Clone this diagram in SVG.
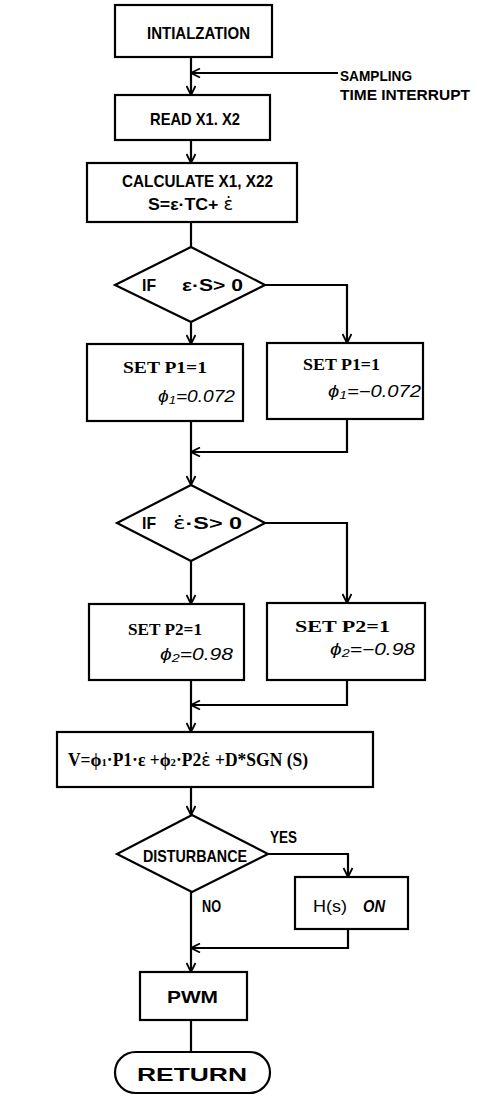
<svg xmlns="http://www.w3.org/2000/svg" width="477" height="1096" viewBox="0 0 477 1096">
<defs>
<style>
.b{fill:#fff;stroke:#000;stroke-width:2.2}
.c{fill:none;stroke:#000;stroke-width:2.2}
.t{font-family:"Liberation Sans",Arial,sans-serif;font-weight:bold;font-size:17px;fill:#000}
.s{font-family:"Liberation Serif","Times New Roman",serif;font-weight:bold;font-size:17px;fill:#000}
.h{font-family:"Liberation Sans",Arial,sans-serif;font-style:italic;font-size:16px;fill:#000}
.e{font-family:"DejaVu Sans",sans-serif;font-weight:normal}
</style>
<marker id="a" viewBox="0 0 10 10" refX="10" refY="5" markerWidth="10" markerHeight="10" markerUnits="userSpaceOnUse" orient="auto">
<path d="M1,0.5 L10,5 L1,9.5" fill="none" stroke="#000" stroke-width="1.8"/>
</marker>
</defs>
<rect width="477" height="1096" fill="#fff"/>

<g id="connectors">
<path class="c" d="M191,57 V95" marker-end="url(#a)"/>
<path class="c" d="M338,73 H191" marker-end="url(#a)"/>
<path class="c" d="M191,140 V163" marker-end="url(#a)"/>
<path class="c" d="M191,222 V247"/>
<path class="c" d="M191,322 V344" marker-end="url(#a)"/>
<path class="c" d="M265,285 H347 V343" marker-end="url(#a)"/>
<path class="c" d="M191,421 V485" marker-end="url(#a)"/>
<path class="c" d="M347,419 V452 H191" marker-end="url(#a)"/>
<path class="c" d="M191,561 V604" marker-end="url(#a)"/>
<path class="c" d="M265,523 H347 V603" marker-end="url(#a)"/>
<path class="c" d="M191,680 V732" marker-end="url(#a)"/>
<path class="c" d="M347,680 V705 H191" marker-end="url(#a)"/>
<path class="c" d="M191,787 V815" marker-end="url(#a)"/>
<path class="c" d="M268,854 H348 V877" marker-end="url(#a)"/>
<path class="c" d="M191,892 V972" marker-end="url(#a)"/>
<path class="c" d="M348,929 V948 H191" marker-end="url(#a)"/>
<path class="c" d="M191,1020 V1052"/>
</g>

<g id="sampling">
<text class="t" x="340" y="81" style="font-size:15px" textLength="72" lengthAdjust="spacingAndGlyphs">SAMPLING</text>
<text class="t" x="340" y="100" style="font-size:14px" textLength="130" lengthAdjust="spacingAndGlyphs">TIME INTERRUPT</text>
</g>

<g id="init">
<rect class="b" x="115" y="5" width="157" height="52"/>
<text class="t" x="147" y="39" textLength="103" lengthAdjust="spacingAndGlyphs">INTIALZATION</text>
</g>

<g id="read">
<rect class="b" x="115" y="95" width="155" height="45"/>
<text class="t" x="150" y="125" textLength="90" lengthAdjust="spacingAndGlyphs">READ X1. X2</text>
</g>

<g id="calc">
<rect class="b" x="87" y="163" width="210" height="59"/>
<text class="t" x="122" y="187" textLength="151" lengthAdjust="spacingAndGlyphs">CALCULATE X1, X22</text>
<text class="t" x="148" y="210" textLength="85" lengthAdjust="spacingAndGlyphs">S=ε·TC+ <tspan class="e">ε̇</tspan></text>
</g>

<g id="dec1">
<polygon class="b" points="191,247 265,285 191,322 115,285"/>
<text class="t" x="142" y="291" textLength="14" lengthAdjust="spacingAndGlyphs">IF</text>
<text class="t" x="182" y="291" textLength="61" lengthAdjust="spacingAndGlyphs">ε·S&gt; 0</text>
</g>

<g id="setp1a">
<rect class="b" x="87" y="344" width="156" height="77"/>
<text class="s" x="123" y="373" textLength="84" lengthAdjust="spacingAndGlyphs">SET P1=1</text>
<text class="h" x="158" y="402" textLength="77" lengthAdjust="spacingAndGlyphs">ϕ<tspan font-size="11" dy="2">1</tspan><tspan dy="-2">=0.072</tspan></text>
</g>

<g id="setp1b">
<rect class="b" x="267" y="343" width="156" height="76"/>
<text class="s" x="303" y="370" textLength="77" lengthAdjust="spacingAndGlyphs">SET P1=1</text>
<text class="h" x="328" y="397" textLength="93" lengthAdjust="spacingAndGlyphs">ϕ<tspan font-size="11" dy="2">1</tspan><tspan dy="-2">=−0.072</tspan></text>
</g>

<g id="dec2">
<polygon class="b" points="191,485 265,523 191,561 117,523"/>
<text class="t" x="142" y="529" textLength="14" lengthAdjust="spacingAndGlyphs">IF</text>
<text class="t" x="173" y="529" textLength="69" lengthAdjust="spacingAndGlyphs"><tspan class="e">ε̇</tspan>·S&gt; 0</text>
</g>

<g id="setp2a">
<rect class="b" x="89" y="604" width="155" height="76"/>
<text class="s" x="128" y="635" textLength="74" lengthAdjust="spacingAndGlyphs">SET P2=1</text>
<text class="h" x="160" y="660" textLength="73" lengthAdjust="spacingAndGlyphs">ϕ<tspan font-size="11" dy="2">2</tspan><tspan dy="-2">=0.98</tspan></text>
</g>

<g id="setp2b">
<rect class="b" x="267" y="603" width="158" height="77"/>
<text class="s" x="295" y="632" textLength="95" lengthAdjust="spacingAndGlyphs">SET P2=1</text>
<text class="h" x="330" y="655" textLength="85" lengthAdjust="spacingAndGlyphs">ϕ<tspan font-size="11" dy="2">2</tspan><tspan dy="-2">=−0.98</tspan></text>
</g>

<g id="calcv">
<rect class="b" x="57" y="732" width="316" height="55"/>
<text class="s" x="68" y="766" style="font-size:18px" textLength="240" lengthAdjust="spacingAndGlyphs">V=ϕ<tspan font-size="11">1</tspan>·P1·ε +ϕ<tspan font-size="11">2</tspan>·P2<tspan class="e">ε̇</tspan> +D*SGN (S)</text>
</g>

<g id="dec3">
<polygon class="b" points="192,815 268,854 192,892 117,854"/>
<text class="t" x="143" y="862" textLength="104" lengthAdjust="spacingAndGlyphs">DISTURBANCE</text>
<text class="t" x="270" y="843" textLength="27" lengthAdjust="spacingAndGlyphs">YES</text>
<text class="t" x="202" y="912" textLength="19" lengthAdjust="spacingAndGlyphs">NO</text>
</g>

<g id="hs">
<rect class="b" x="295" y="877" width="113" height="52"/>
<text class="t" x="313" y="912" style="font-weight:normal" textLength="34" lengthAdjust="spacingAndGlyphs">H(s)</text>
<text class="h" x="363" y="912" style="font-weight:bold" textLength="22" lengthAdjust="spacingAndGlyphs">ON</text>
</g>

<g id="pwm">
<rect class="b" x="140" y="972" width="107" height="48"/>
<text class="t" x="167" y="1003" textLength="51" lengthAdjust="spacingAndGlyphs">PWM</text>
</g>

<g id="return">
<rect class="b" x="115" y="1052" width="155" height="41" rx="20.5"/>
<text class="t" x="137" y="1081" style="font-size:18px" textLength="110" lengthAdjust="spacingAndGlyphs">RETURN</text>
</g>
</svg>
